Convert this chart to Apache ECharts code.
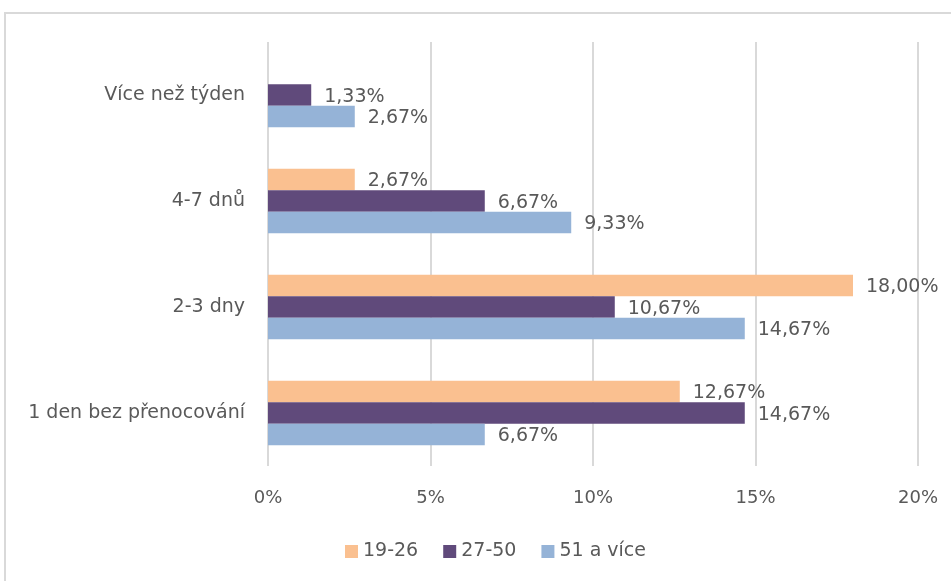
<!DOCTYPE html>
<html lang="cs">
<head>
    <meta charset="UTF-8">
    <title>Délka pobytu podle věku</title>
    <script src="https://cdn.jsdelivr.net/npm/echarts@6.0.0/dist/echarts.min.js"></script>
    <style>
        body {
            margin: 0;
            background-color: #ffffff;
            overflow: hidden;
        }
        /* rámeček grafu, vpravo a dole přesahuje okno */
        .frame {
            position: absolute;
            left: 4px;
            top: 12px;
            width: 1000px;
            height: 1000px;
            border: 2px solid #d9d9d9;
        }
        #chart {
            position: absolute;
            left: 0;
            top: 0;
            width: 951px;
            height: 581px;
        }
    </style>
</head>
<body>
    <div class="frame"></div>
    <div id="chart"></div>

    <script>
        // kategorie shora dolů
        const categories = ['Více než týden', '4-7 dnů', '2-3 dny', '1 den bez přenocování'];
        const seriesNames = ['19-26', '27-50', '51 a více'];
        const age19_26 = [null, 2.67, 18.00, 12.67];
        const age27_50 = [1.33, 6.67, 10.67, 14.67];
        const age51plus = [2.67, 9.33, 14.67, 6.67];
        const colors = ['#fac090', '#604a7b', '#95b3d7'];

        const textColor = '#595959';
        const fontFamily = 'DejaVu Sans';

        let chart = echarts.init(document.getElementById('chart'));

        function makeSeries(name, data, color) {
            return {
                name: name,
                type: 'bar',
                data: data,
                itemStyle: { color: color },
                barGap: '0%',
                barCategoryGap: '39%',
                label: {
                    show: true,
                    position: 'right',
                    distance: 13,
                    offset: [0, 2],
                    color: textColor,
                    fontFamily: fontFamily,
                    fontSize: 19,
                    formatter: p => p.value.toFixed(2).replace('.', ',') + '%'
                }
            };
        }

        let option = {
            animation: false,
            color: colors,
            legend: {
                data: seriesNames,
                left: 340,
                top: 537,
                icon: 'rect',
                itemWidth: 13,
                itemHeight: 13,
                itemGap: 25,
                textStyle: { color: textColor, fontFamily: fontFamily, fontSize: 19 }
            },
            grid: {
                left: 268,
                right: 33,
                top: 42,
                bottom: 115
            },
            xAxis: {
                type: 'value',
                min: 0,
                max: 20,
                interval: 5,
                axisLine: { show: false },
                axisTick: { show: false },
                axisLabel: {
                    color: textColor,
                    fontFamily: fontFamily,
                    fontSize: 18,
                    margin: 23,
                    formatter: '{value}%'
                },
                splitLine: { lineStyle: { color: '#d9d9d9', width: 2 } }
            },
            yAxis: {
                type: 'category',
                inverse: true,
                data: categories,
                axisLine: { show: false },
                axisTick: { show: false },
                axisLabel: {
                    color: textColor,
                    fontFamily: fontFamily,
                    fontSize: 19,
                    margin: 23
                }
            },
            series: [
                makeSeries(seriesNames[0], age19_26, colors[0]),
                makeSeries(seriesNames[1], age27_50, colors[1]),
                makeSeries(seriesNames[2], age51plus, colors[2])
            ]
        };
        chart.setOption(option);
    </script>
</body>
</html>
